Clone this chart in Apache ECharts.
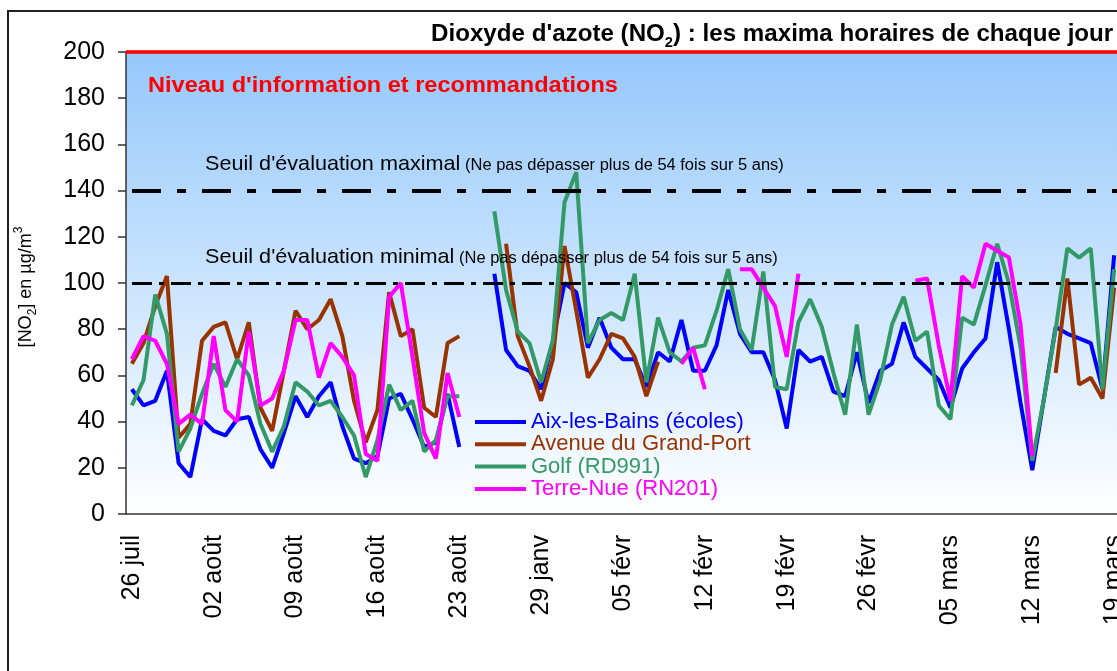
<!DOCTYPE html>
<html>
<head>
<meta charset="utf-8">
<script src="https://cdn.jsdelivr.net/npm/echarts@6/dist/echarts.min.js"></script>
<style>
  html, body { margin: 0; padding: 0; background: #fff; }
  #main { width: 1117px; height: 671px; }
</style>
</head>
<body>
<div id="main"></div>
<script>
  // jours (été puis hiver)
  var dates = ['26 juil', '27 juil', '28 juil', '29 juil', '30 juil', '31 juil', '01 août', '02 août', '03 août', '04 août',
    '05 août', '06 août', '07 août', '08 août', '09 août', '10 août', '11 août', '12 août', '13 août', '14 août',
    '15 août', '16 août', '17 août', '18 août', '19 août', '20 août', '21 août', '22 août', '23 août', '24 août',
    '24 janv', '25 janv', '26 janv', '27 janv', '28 janv', '29 janv', '30 janv', '31 janv', '01 févr', '02 févr',
    '03 févr', '04 févr', '05 févr', '06 févr', '07 févr', '08 févr', '09 févr', '10 févr', '11 févr', '12 févr',
    '13 févr', '14 févr', '15 févr', '16 févr', '17 févr', '18 févr', '19 févr', '20 févr', '21 févr', '22 févr',
    '23 févr', '24 févr', '25 févr', '26 févr', '27 févr', '28 févr', '01 mars', '02 mars', '03 mars', '04 mars',
    '05 mars', '06 mars', '07 mars', '08 mars', '09 mars', '10 mars', '11 mars', '12 mars', '13 mars', '14 mars',
    '15 mars', '16 mars', '17 mars', '18 mars', '19 mars']

  var aix = [54, 47, 49, 62, 22, 16, 41, 36, 34, 41, 42, 28, 20, 35, 51, 42, 51, 57, 38, 24,
    22, 25, 50, 52, 41, 29, 31, 52, 29, null, null, 104, 71, 64, 62, 54, 75, 100, 96, 72,
    85, 72, 67, 67, 55, 70, 66, 84, 62, 62, 73, 97, 78, 70, 70, 58, 37, 71, 66, 68,
    53, 51, 70, 48, 62, 65, 83, 68, 63, 58, 46, 63, 70, 76, 109, 80, 48, 19, 50, 81,
    78, 76, 74, 54, 112]

  var avenue = [65, 74, 90, 103, 33, 39, 75, 81, 83, 67, 83, 46, 36, 62, 88, 80, 84, 93, 77, 49,
    31, 45, 96, 77, 80, 46, 42, 74, 77, null, null, null, 117, 77, 64, 49, 67, 116, 88, 59,
    67, 78, 76, 68, 51, 66, null, null, null, null, null, null, null, null, null, null, null, null, null, null,
    null, null, null, null, null, null, null, null, null, null, null, null, null, null, null, null, null, null, null, 61,
    102, 56, 59, 50, 98]

  var golf = [47, 58, 95, 78, 27, 37, 52, 65, 55, 67, 60, 39, 27, 38, 57, 53, 47, 49, 42, 34,
    16, 32, 56, 45, 49, 27, 32, 51, 51, null, null, 131, 97, 79, 74, 57, 75, 135, 148, 74,
    84, 87, 84, 104, 57, 85, 70, 66, 72, 73, 88, 106, 80, 71, 105, 55, 54, 83, 93, 81,
    61, 43, 82, 43, 58, 82, 94, 75, 79, 47, 41, 85, 82, 99, 117, 100, 72, 23, 50, 80,
    115, 111, 115, 54, 106]

  var terreNue = [67, 77, 75, 65, 39, 43, 39, 77, 45, 40, 79, 47, 50, 62, 84, 84, 59, 74, 68, 60,
    26, 23, 94, 100, 68, 35, 24, 61, 42, null, null, null, null, null, null, null, null, null, null, null,
    null, null, null, null, null, null, null, 65, 72, 54, null, null, 106, 106, 98, 90, 68, 104, null, null,
    null, null, null, null, null, null, null, 101, 102, 73, 49, 103, 98, 117, 114, 111, 82, 25, null, null,
    null, null, null, null, null]

  var yTicks = [0, 20, 40, 60, 80, 100, 120, 140, 160, 180, 200]

  var font = 'Liberation Sans, Arial, sans-serif'
  var colors = ['#0000FF', '#993300', '#339966', '#FF00FF']
  var names = ['Aix-les-Bains (écoles)', 'Avenue du Grand-Port', 'Golf (RD991)', 'Terre-Nue (RN201)']
  var values = [aix, avenue, golf, terreNue]

  var chart = echarts.init(document.getElementById('main'))

  var series = values.map(function (data, i) {
    var s = {
      name: names[i],
      type: 'line',
      data: data,
      symbol: 'none',
      showSymbol: false,
      connectNulls: false,
      color: colors[i],
      lineStyle: { width: 4, color: colors[i] },
      animation: false
    }
    if (i === 0) {
      // seuils
      s.markLine = {
        silent: true,
        symbol: ['none', 'none'],
        label: { show: false },
        animation: false,
        data: [
          { yAxis: 200, lineStyle: { color: '#FF0000', width: 3.5, type: 'solid' } },
          { yAxis: 140, lineStyle: { color: '#000', width: 4, type: [29, 16, 9, 16], dashOffset: 64 } },
          { yAxis: 100, lineStyle: { color: '#000', width: 3, type: [20, 7, 5, 7], dashOffset: 33 } }
        ]
      }
    }
    return s
  })

  var option = {
    backgroundColor: '#fff',
    animation: false,
    textStyle: { fontFamily: font },
    grid: {
      left: 126,
      top: 52,
      width: 994,
      bottom: 157,
      show: true,
      borderWidth: 0,
      outerBoundsMode: 'none',
      backgroundColor: new echarts.graphic.LinearGradient(0, 0, 0, 1, [
        { offset: 0, color: '#95C8FB' },
        { offset: 1, color: '#FFFFFF' }
      ])
    },
    legend: {
      orient: 'vertical',
      left: 475,
      top: 411,
      padding: 0,
      itemGap: 0.3,
      itemWidth: 51,
      itemHeight: 4,
      icon: 'rect',
      textStyle: { fontSize: 22, fontFamily: font, lineHeight: 22 },
      data: names.map(function (n, i) {
        return { name: n, textStyle: { color: colors[i] } }
      })
    },
    xAxis: {
      type: 'category',
      data: dates,
      boundaryGap: true,
      axisLine: { lineStyle: { color: '#333', width: 1.5 } },
      axisTick: { show: false },
      axisLabel: {
        interval: 6,
        rotate: 90,
        margin: 21,
        fontSize: 25,
        color: '#000',
        fontFamily: font
      },
      splitLine: { show: false }
    },
    yAxis: {
      type: 'value',
      min: yTicks[0],
      max: yTicks[yTicks.length - 1],
      interval: 20,
      axisLine: { show: true, lineStyle: { color: '#333', width: 1.5 } },
      axisTick: { show: true, length: 8, lineStyle: { color: '#333', width: 1.5 } },
      axisLabel: { fontSize: 25, color: '#000', margin: 21, fontFamily: font },
      splitLine: { show: false }
    },
    graphic: [
      // cadre
      {
        type: 'rect', silent: true, z: 100,
        shape: { x: 8, y: 11, width: 1200, height: 800 },
        style: { fill: 'none', stroke: '#222', lineWidth: 2 }
      },
      {
        type: 'text', x: 431, y: 35, scaleX: 1.05, z: 100,
        style: {
          text: "Dioxyde d'azote (NO{sub|2}) : les maxima horaires de chaque jour",
          font: 'bold 23px ' + font, fill: '#000', align: 'left', verticalAlign: 'middle',
          rich: { sub: { fontSize: 14, fontWeight: 'bold', fontFamily: font, verticalAlign: 'bottom', lineHeight: 30, fill: '#000' } }
        }
      },
      {
        type: 'text', x: 148, y: 86, scaleX: 1.07, z: 100,
        style: {
          text: "Niveau d'information et recommandations",
          font: 'bold 22px ' + font, fill: '#FF0000', align: 'left', verticalAlign: 'middle'
        }
      },
      {
        type: 'text', x: 205, y: 164, scaleX: 1.03, z: 100,
        style: { text: "Seuil d'évaluation maximal", font: '21px ' + font, fill: '#000', verticalAlign: 'middle' }
      },
      {
        type: 'text', x: 465, y: 166, scaleX: 1.03, z: 100,
        style: { text: '(Ne pas dépasser plus de 54 fois sur 5 ans)', font: '16px ' + font, fill: '#000', verticalAlign: 'middle' }
      },
      {
        type: 'text', x: 205, y: 257, scaleX: 1.03, z: 100,
        style: { text: "Seuil d'évaluation minimal", font: '21px ' + font, fill: '#000', verticalAlign: 'middle' }
      },
      {
        type: 'text', x: 459, y: 259, scaleX: 1.03, z: 100,
        style: { text: '(Ne pas dépasser plus de 54 fois sur 5 ans)', font: '16px ' + font, fill: '#000', verticalAlign: 'middle' }
      },
      {
        type: 'text', x: 26, y: 287, rotation: Math.PI / 2, z: 100,
        style: {
          text: '[NO{sub|2}] en µg/m{sup|3}',
          font: '18px ' + font, fill: '#000', align: 'center', verticalAlign: 'middle',
          rich: {
            sub: { fontSize: 12, fontFamily: font, verticalAlign: 'bottom', lineHeight: 26, fill: '#000' },
            sup: { fontSize: 12, fontFamily: font, verticalAlign: 'top', lineHeight: 26, fill: '#000' }
          }
        }
      }
    ],
    series: series
  }

  chart.setOption(option)
</script>
</body>
</html>
